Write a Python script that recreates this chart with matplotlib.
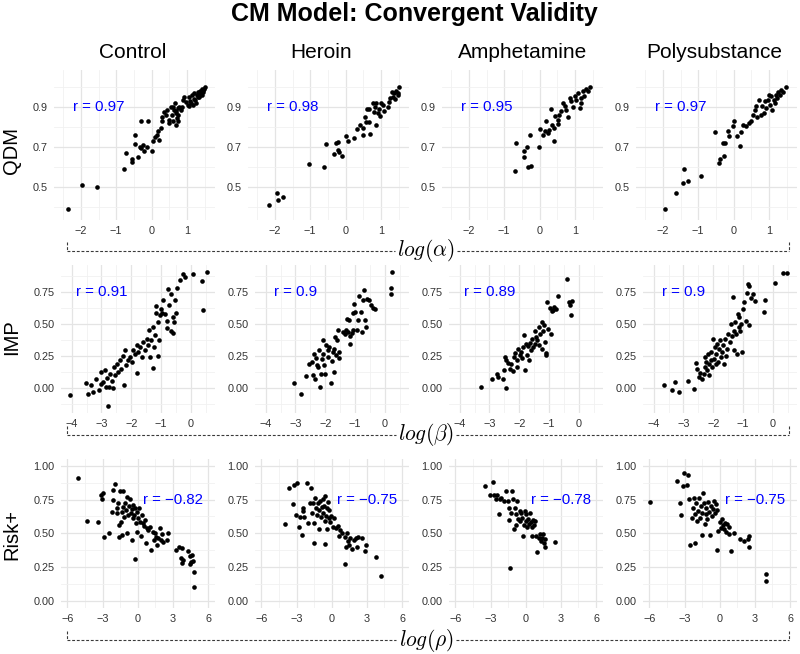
import matplotlib
matplotlib.use('Agg')
import matplotlib.pyplot as plt

plt.rcParams['font.family'] = ['Liberation Sans', 'DejaVu Sans']
plt.rcParams['mathtext.fontset'] = 'cm'
plt.rcParams['axes.unicode_minus'] = True

# ---------------- data ----------------
groups = ['Control', 'Heroin', 'Amphetamine', 'Polysubstance']
measures = ['QDM', 'IMP', 'Risk+']
param_labels = [r'$log(\alpha)$', r'$log(\beta)$', r'$log(\rho)$']
r_values = [[0.97, 0.98, 0.95, 0.97],
            [0.91, 0.9, 0.89, 0.9],
            [-0.82, -0.75, -0.78, -0.75]]

# Row 1: QDM vs log(alpha)
qdm_control_x = [-2.36, -1.97, -1.55, -0.79, -0.73, -0.56, -0.54, -0.48, -0.48, -0.38, -0.30, -0.29, -0.25, -0.21,
                 -0.09, 0.01, 0.05, 0.10, 0.17, 0.20, 0.26, 0.29, 0.36, 0.41, 0.45, 0.48, 0.50, 0.55, 0.58, 0.61,
                 0.64, 0.67, 0.69, 0.74, 0.76, 0.83, 0.88, 0.97, 1.02, 1.07, 1.11, 1.14, 1.16, 1.21, 1.24, 1.28,
                 1.30, 1.35, 1.37, 1.40, 1.42, 1.46, 1.51, 1.44, 1.25, 1.05, 0.92, 0.71, 0.62, 0.70, 0.78, 0.85,
                 1.10, 1.20, 1.32, 1.38, 1.45, 1.48, -0.33, -0.12, 0.14, 0.30, 0.68, 0.76]
qdm_control_y = [0.39, 0.51, 0.50, 0.59, 0.67, 0.64, 0.627, 0.76, 0.715, 0.653, 0.83, 0.695, 0.71, 0.68,
                 0.83, 0.683, 0.73, 0.75, 0.78, 0.737, 0.795, 0.85, 0.878, 0.86, 0.887, 0.837, 0.82, 0.903, 0.86, 0.83,
                 0.887, 0.92, 0.87, 0.895, 0.86, 0.887, 0.937, 0.928, 0.912, 0.953, 0.92, 0.962, 0.912, 0.97, 0.937, 0.962,
                 0.978, 0.953, 0.983, 0.97, 0.99, 0.978, 1.0, 0.962, 0.92, 0.907, 0.95, 0.845, 0.90, 0.88, 0.90, 0.90,
                 0.93, 0.94, 0.95, 0.96, 0.985, 0.99, 0.70, 0.70, 0.76, 0.83, 0.81, 0.83]

qdm_heroin_x = [-2.17, -1.95, -1.91, -1.77, -1.03, -0.60, -0.55, -0.33, -0.27, -0.21, -0.21, -0.18, -0.09, 0.0,
                0.06, 0.24, 0.33, 0.40, 0.48, 0.50, 0.54, 0.59, 0.62, 0.66, 0.68, 0.66, 0.80, 0.84, 0.85, 0.87,
                0.92, 0.94, 0.96, 0.99, 1.06, 1.10, 1.20, 1.24, 1.27, 1.31, 1.34, 1.38, 1.41, 1.43, 1.48, 1.52,
                1.48, 0.78]
qdm_heroin_y = [0.41, 0.47, 0.437, 0.453, 0.618, 0.603, 0.715, 0.667, 0.72, 0.728, 0.687, 0.678, 0.658, 0.757,
                0.733, 0.745, 0.792, 0.812, 0.762, 0.798, 0.853, 0.828, 0.89, 0.828, 0.767, 0.89, 0.878, 0.903, 0.812, 0.92,
                0.87, 0.89, 0.857, 0.92, 0.912, 0.883, 0.903, 0.928, 0.945, 0.978, 0.953, 0.97, 0.94, 0.983, 0.973, 1.0,
                0.962, 0.92]

qdm_amph_x = [-0.69, -0.66, -0.45, -0.45, -0.35, -0.33, -0.24, -0.26, -0.02, 0.0, 0.09, 0.14, 0.19, 0.24, 0.28,
              0.33, 0.36, 0.42, 0.45, 0.52, 0.55, 0.61, 0.66, 0.73, 0.80, 0.85, 0.90, 0.94, 0.99, 1.04, 1.08, 1.13,
              1.18, 1.23, 1.27, 1.32, 1.37, 1.43, 1.18, 0.75, 0.42, 0.52]
qdm_amph_y = [0.582, 0.721, 0.654, 0.683, 0.704, 0.604, 0.607, 0.763, 0.70, 0.79, 0.763, 0.78, 0.83, 0.77, 0.785,
              0.892, 0.813, 0.734, 0.858, 0.818, 0.863, 0.88, 0.922, 0.908, 0.852, 0.947, 0.93, 0.902, 0.958, 0.938, 0.972, 0.897,
              0.947, 0.98, 0.955, 0.992, 0.98, 1.0, 0.922, 0.888, 0.796, 0.838]

qdm_poly_x = [-1.93, -1.63, -1.43, -1.39, -1.30, -0.93, -0.52, -0.41, -0.39, -0.27, -0.31, -0.24, -0.17, -0.12,
              -0.03, 0.0, 0.11, 0.18, 0.21, 0.26, 0.35, 0.43, 0.50, 0.54, 0.62, 0.66, 0.73, 0.78, 0.81, 0.85, 0.88,
              0.92, 0.97, 1.02, 1.07, 1.10, 1.13, 1.19, 1.23, 1.26, 1.30, 1.35, 1.40, 1.48, 1.16, 1.0, 0.64]
qdm_poly_y = [0.39, 0.474, 0.524, 0.59, 0.533, 0.559, 0.775, 0.62, 0.64, 0.657, 0.72, 0.724, 0.78, 0.758,
              0.805, 0.83, 0.758, 0.707, 0.775, 0.813, 0.808, 0.82, 0.83, 0.863, 0.888, 0.852, 0.938, 0.863, 0.908, 0.872, 0.93,
              0.897, 0.938, 0.913, 0.955, 0.888, 0.938, 0.963, 0.947, 0.975, 0.963, 0.989, 0.975, 1.0, 0.922, 0.963, 0.905]

# Row 2: IMP vs log(beta)
imp_control_x = [-4.07, -3.53, -3.45, -3.36, -3.30, -3.17, -3.09, -3.02, -3.0, -2.94, -2.89, -2.85, -2.81, -2.78,
                 -2.74, -2.72, -2.66, -2.61, -2.58, -2.55, -2.49, -2.44, -2.38, -2.33, -2.27, -2.24, -2.21, -2.16,
                 -2.10, -2.04, -1.99, -1.93, -1.88, -1.82, -1.80, -1.76, -1.71, -1.65, -1.60, -1.54, -1.48, -1.43,
                 -1.39, -1.37, -1.35, -1.28, -1.26, -1.24, -1.20, -1.17, -1.17, -1.11, -1.09, -1.06, -1.03, -1.0,
                 -0.96, -0.92, -0.87, -0.81, -0.78, -0.75, -0.72, -0.67, -0.66, -0.61, -0.58, -0.55, -0.53, -0.49,
                 -0.47, -0.36, -0.27, -0.19, 0.09, 0.37, 0.43, 0.54]
imp_control_y = [-0.055, 0.039, -0.052, 0.018, -0.034, 0.07, -0.016, 0.026, 0.123, 0.044, 0.141, 0.010, 0.078, -0.146,
                 0.010, 0.11, 0.057, 0.0, 0.162, 0.097, 0.188, 0.123, 0.214, 0.149, 0.245, 0.018, 0.292, 0.175,
                 0.214, 0.240, 0.201, 0.298, 0.266, 0.332, 0.115, 0.279, 0.318, 0.240, 0.358, 0.292, 0.384, 0.332,
                 0.449, 0.240, 0.371, 0.475, 0.157, 0.318, 0.41, 0.637, 0.585, 0.245, 0.514, 0.371, 0.567, 0.619,
                 0.585, 0.684, 0.580, 0.47, 0.52, 0.775, 0.645, 0.736, 0.441, 0.428, 0.554, 0.514, 0.689, 0.585,
                 0.783, 0.846, 0.888, 0.867, 0.888, 0.836, 0.611, 0.906]

imp_heroin_x = [-3.05, -2.80, -2.64, -2.55, -2.46, -2.41, -2.38, -2.34, -2.30, -2.26, -2.23, -2.21, -2.18, -2.15,
                -2.11, -2.09, -2.06, -2.03, -2.0, -1.98, -1.92, -1.89, -1.86, -1.80, -1.77, -1.75, -1.71, -1.69,
                -1.66, -1.63, -1.61, -1.57, -1.54, -1.52, -1.40, -1.34, -1.29, -1.26, -1.23, -1.20, -1.17, -1.15,
                -1.11, -1.08, -1.06, -1.02, -1.0, -0.94, -0.89, -0.85, -0.80, -0.77, -0.74, -0.71, -0.66, -0.62,
                -0.60, -0.54, -0.46, -0.39, -0.31, 0.24, 0.21, 0.21]
imp_heroin_y = [0.039, -0.047, 0.091, 0.183, 0.201, 0.097, 0.266, 0.070, 0.232, 0.175, 0.162, 0.292, 0.010, 0.104,
                0.227, 0.371, 0.266, 0.175, 0.104, 0.332, 0.292, 0.240, 0.318, 0.037, 0.209, 0.279, 0.305, 0.123,
                0.397, 0.253, 0.376, 0.449, 0.235, 0.279, 0.436, 0.423, 0.449, 0.540, 0.436, 0.527, 0.402, 0.339,
                0.431, 0.585, 0.449, 0.658, 0.593, 0.454, 0.527, 0.715, 0.593, 0.436, 0.684, 0.762, 0.527, 0.475,
                0.697, 0.689, 0.645, 0.627, 0.619, 0.906, 0.783, 0.736]

imp_amph_x = [-3.30, -2.93, -2.75, -2.70, -2.55, -2.52, -2.49, -2.46, -2.44, -2.38, -2.32, -2.26, -2.21, -2.17,
              -2.13, -2.09, -2.06, -2.03, -1.98, -1.94, -1.92, -1.86, -1.83, -1.80, -1.77, -1.75, -1.69, -1.66,
              -1.63, -1.60, -1.57, -1.52, -1.48, -1.46, -1.44, -1.40, -1.34, -1.32, -1.29, -1.25, -1.23, -1.21,
              -1.17, -1.14, -1.11, -1.09, -1.06, -1.02, -0.98, -0.94, -0.91, -0.86, -0.83, -0.77, -0.68, -0.39,
              -0.31, -0.28, -0.25, -0.22]
imp_amph_y = [0.008, 0.065, 0.106, 0.085, 0.065, 0.137, 0.240, -0.005, 0.214, 0.194, 0.150, 0.189, 0.132, 0.240,
              0.271, 0.163, 0.214, 0.305, 0.253, 0.279, 0.235, 0.318, 0.416, 0.137, 0.344, 0.253, 0.323, 0.220,
              0.349, 0.292, 0.382, 0.318, 0.344, 0.447, 0.400, 0.370, 0.473, 0.331, 0.421, 0.512, 0.305, 0.447,
              0.494, 0.357, 0.271, 0.253, 0.667, 0.460, 0.623, 0.421, 0.602, 0.607, 0.628, 0.615, 0.718, 0.848,
              0.674, 0.649, 0.571, 0.680]

imp_poly_x = [-3.67, -3.38, -3.29, -3.15, -2.86, -2.63, -2.58, -2.55, -2.49, -2.43, -2.38, -2.32, -2.29, -2.26,
              -2.24, -2.21, -2.17, -2.15, -2.13, -2.09, -2.06, -2.03, -2.01, -1.98, -1.94, -1.92, -1.90, -1.86,
              -1.83, -1.81, -1.78, -1.75, -1.71, -1.67, -1.63, -1.60, -1.58, -1.52, -1.49, -1.44, -1.41, -1.37,
              -1.35, -1.31, -1.29, -1.26, -1.23, -1.21, -1.18, -1.14, -1.12, -1.10, -1.06, -1.03, -1.01, -0.95,
              -0.91, -0.87, -0.83, -0.80, -0.78, -0.72, -0.66, -0.61, -0.30, -0.26, 0.08, 0.34, 0.48]
imp_poly_y = [0.021, -0.018, 0.047, -0.031, 0.054, -0.013, 0.194, 0.150, 0.085, 0.116, 0.072, 0.111, 0.163, 0.240,
              0.202, 0.142, 0.266, 0.183, 0.098, 0.214, 0.279, 0.163, 0.382, 0.227, 0.318, 0.183, 0.266, 0.344,
              0.202, 0.305, 0.370, 0.240, 0.279, 0.331, 0.183, 0.382, 0.246, 0.305, 0.421, 0.357, 0.499, 0.408,
              0.711, 0.447, 0.297, 0.512, 0.421, 0.261, 0.576, 0.478, 0.550, 0.447, 0.499, 0.279, 0.615, 0.667,
              0.525, 0.744, 0.814, 0.494, 0.796, 0.700, 0.736, 0.680, 0.589, 0.685, 0.822, 0.899, 0.899]

# Row 3: Risk+ vs log(rho)
risk_control_x = [-5.07, -4.30, -3.36, -3.13, -3.08, -3.0, -2.88, -2.45, -2.22, -2.08, -2.08, -1.94, -1.79, -1.74,
                  -1.65, -1.57, -1.57, -1.51, -1.45, -1.37, -1.37, -1.28, -1.23, -1.17, -1.08, -1.0, -0.94, -0.88,
                  -0.80, -0.71, -0.66, -0.60, -0.51, -0.51, -0.43, -0.37, -0.31, -0.23, -0.23, -0.14, -0.09, -0.03,
                  0.06, 0.14, 0.20, 0.26, 0.34, 0.43, 0.54, 0.63, 0.71, 0.77, 0.91, 1.05, 1.17, 1.28, 1.40, 1.48,
                  1.57, 1.68, 1.77, 1.91, 1.97, 2.05, 2.19, 2.54, 2.48, 3.28, 3.56, 3.68, 3.76, 3.79, 3.90, 4.33,
                  4.47, 4.53, 4.62, 4.70, 4.42, 4.81, 4.81]
risk_control_y = [0.906, 0.594, 0.584, 0.783, 0.751, 0.80, 0.475, 0.505, 0.660, 0.746, 0.820, 0.862, 0.685, 0.648,
                  0.724, 0.562, 0.470, 0.815, 0.586, 0.488, 0.660, 0.815, 0.697, 0.623, 0.724, 0.672, 0.771, 0.500,
                  0.635, 0.702, 0.751, 0.653, 0.451, 0.677, 0.611, 0.709, 0.635, 0.308, 0.685, 0.579, 0.660, 0.512,
                  0.611, 0.685, 0.586, 0.480, 0.635, 0.574, 0.554, 0.599, 0.431, 0.537, 0.525, 0.549, 0.377, 0.512,
                  0.451, 0.505, 0.470, 0.414, 0.463, 0.537, 0.451, 0.495, 0.438, 0.500, 0.451, 0.377, 0.397, 0.315,
                  0.394, 0.278, 0.303, 0.372, 0.333, 0.291, 0.340, 0.298, 0.273, 0.217, 0.106]

risk_heroin_x = [-4.0, -3.63, -3.34, -3.20, -3.06, -2.97, -2.77, -2.71, -2.54, -2.49, -2.43, -2.34, -2.11, -2.0,
                 -1.83, -1.77, -1.69, -1.57, -1.49, -1.49, -1.40, -1.34, -1.29, -1.20, -1.11, -1.06, -1.0, -0.91,
                 -0.86, -0.77, -0.71, -0.63, -0.60, -0.54, -0.54, -0.49, -0.43, -0.37, -0.34, -0.26, -0.20, -0.11,
                 -0.06, 0.09, 0.23, 0.37, 0.51, 0.66, 0.74, 0.89, 1.09, 1.09, 1.23, 1.31, 1.37, 1.46, 1.57, 1.74,
                 1.86, 2.03, 2.14, 2.23, 2.60, 2.80, 2.94, 3.74, 4.23]
risk_heroin_y = [0.569, 0.833, 0.714, 0.857, 0.635, 0.869, 0.544, 0.623, 0.488, 0.685, 0.665, 0.623, 0.869, 0.579,
                 0.727, 0.833, 0.653, 0.727, 0.431, 0.579, 0.759, 0.685, 0.635, 0.724, 0.672, 0.532, 0.737, 0.623,
                 0.697, 0.751, 0.648, 0.702, 0.594, 0.776, 0.419, 0.628, 0.685, 0.530, 0.734, 0.611, 0.672, 0.586,
                 0.628, 0.544, 0.611, 0.537, 0.554, 0.480, 0.525, 0.500, 0.470, 0.271, 0.401, 0.500, 0.446, 0.414,
                 0.463, 0.382, 0.451, 0.463, 0.397, 0.475, 0.463, 0.372, 0.414, 0.323, 0.185]

risk_amph_x = [-3.49, -3.01, -2.78, -2.70, -2.44, -2.50, -2.27, -2.22, -2.07, -1.88, -1.65, -1.51, -1.42, -1.42,
               -1.31, -1.22, -1.14, -1.08, -1.02, -0.94, -0.85, -0.80, -0.74, -0.65, -0.51, -0.45, -0.37, -0.28,
               -0.23, -0.17, -0.09, 0.0, 0.06, 0.14, 0.20, 0.28, 0.40, 0.48, 0.57, 0.63, 0.71, 0.57, 0.77, 0.91,
               0.99, 1.14, 1.25, 1.34, 1.42, 1.48, 1.53, 1.62, 1.68, 2.53]
risk_amph_y = [0.848, 0.787, 0.878, 0.787, 0.787, 0.751, 0.641, 0.756, 0.763, 0.738, 0.812, 0.738, 0.690, 0.599,
               0.242, 0.653, 0.812, 0.756, 0.531, 0.690, 0.560, 0.641, 0.738, 0.604, 0.665, 0.592, 0.648, 0.616,
               0.482, 0.560, 0.665, 0.592, 0.641, 0.550, 0.609, 0.567, 0.653, 0.584, 0.550, 0.599, 0.560, 0.482,
               0.594, 0.477, 0.364, 0.469, 0.494, 0.445, 0.469, 0.494, 0.428, 0.457, 0.396, 0.433]

risk_poly_x = [-5.95, -3.65, -3.42, -3.28, -3.13, -3.07, -2.79, -2.70, -2.59, -2.50, -2.41, -2.30, -2.21, -2.13,
               -2.13, -2.01, -1.93, -1.84, -1.78, -1.72, -1.64, -1.55, -1.49, -1.44, -1.35, -1.26, -1.21, -1.15,
               -1.06, -0.98, -0.92, -0.86, -0.78, -0.69, -0.57, -0.49, -0.40, -0.34, -0.26, -0.20, -0.11, 0.0,
               0.09, 0.17, 0.29, 0.37, 0.46, 0.52, 0.60, 0.75, 0.80, 0.95, 1.24, 1.72, 2.10, 2.39, 2.47, 2.47,
               3.91, 3.91]
risk_poly_y = [0.733, 0.885, 0.726, 0.633, 0.848, 0.946, 0.856, 0.934, 0.756, 0.413, 0.616, 0.690, 0.763, 0.428,
               0.641, 0.726, 0.592, 0.665, 0.763, 0.616, 0.702, 0.487, 0.653, 0.800, 0.726, 0.567, 0.641, 0.690,
               0.604, 0.731, 0.658, 0.487, 0.702, 0.628, 0.677, 0.738, 0.653, 0.714, 0.379, 0.672, 0.518, 0.584,
               0.543, 0.604, 0.560, 0.535, 0.579, 0.511, 0.567, 0.550, 0.494, 0.372, 0.506, 0.462, 0.445, 0.462,
               0.396, 0.482, 0.200, 0.144]

panel_data = [
    [(qdm_control_x, qdm_control_y), (qdm_heroin_x, qdm_heroin_y), (qdm_amph_x, qdm_amph_y), (qdm_poly_x, qdm_poly_y)],
    [(imp_control_x, imp_control_y), (imp_heroin_x, imp_heroin_y), (imp_amph_x, imp_amph_y), (imp_poly_x, imp_poly_y)],
    [(risk_control_x, risk_control_y), (risk_heroin_x, risk_heroin_y), (risk_amph_x, risk_amph_y), (risk_poly_x, risk_poly_y)],
]

x_major = [[-2, -1, 0, 1], [-4, -3, -2, -1, 0], [-6, -3, 0, 3, 6]]
x_minor = [[-2.5, -1.5, -0.5, 0.5, 1.5], [-3.5, -2.5, -1.5, -0.5, 0.5], [-4.5, -1.5, 1.5, 4.5]]
y_major = [[0.5, 0.7, 0.9], [0.0, 0.25, 0.5, 0.75], [0.0, 0.25, 0.5, 0.75, 1.0]]
y_minor = [[0.4, 0.6, 0.8, 1.0], [-0.125, 0.125, 0.375, 0.625, 0.875], [0.125, 0.375, 0.625, 0.875]]
y_fmt = ['{:.1f}', '{:.2f}', '{:.2f}']

# ---------------- layout (pixels) ----------------
W, H = 800, 654
fig = plt.figure(figsize=(W / 100, H / 100), dpi=100)
fig.patch.set_facecolor('white')

xlims = [(-2.76, 1.78), (-4.36, 0.80), (-6.55, 6.55)]
ylims = [(0.3365, 1.0865), (-0.197, 0.96), (-0.052, 1.05)]
rights = [214.5, 408.5, 602.5, 796.5]
widths = [160.5, 153.5, 153.5]
row_tb = [(70, 220), (265, 413), (459, 608)]
r_pos = [(-1.5, 0.9), (-3.0, 0.75), (3.0, 0.75)]


def px_axes(l, t, r, b):
    return fig.add_axes([l / W, 1 - b / H, (r - l) / W, (b - t) / H])


def fmt_r(v):
    s = f"r = {v:g}"
    return s.replace('-', '\u2212')


for i in range(3):
    t, b = row_tb[i]
    for j in range(4):
        r = rights[j]
        ax = px_axes(r - widths[i], t, r, b)
        ax.set_facecolor('white')
        for s in ax.spines.values():
            s.set_visible(False)
        ax.set_xlim(*xlims[i])
        ax.set_ylim(*ylims[i])
        ax.set_xticks(x_major[i])
        ax.set_xticks(x_minor[i], minor=True)
        ax.set_yticks(y_major[i])
        ax.set_yticks(y_minor[i], minor=True)
        ax.set_yticklabels([y_fmt[i].format(v) for v in y_major[i]])
        ax.grid(True, which='major', color='#E4E4E4', linewidth=0.9, zorder=0)
        ax.grid(True, which='minor', color='#F1F1F1', linewidth=0.6, zorder=0)
        ax.set_axisbelow(True)
        ax.tick_params(which='both', length=0, labelsize=7.8, labelcolor='#333333', pad=4.5)
        xs, ys = panel_data[i][j]
        ax.scatter(xs, ys, s=11, color='black', linewidths=0, zorder=3)
        ax.text(r_pos[i][0], r_pos[i][1], fmt_r(r_values[i][j]), color='#0000FF',
                fontsize=10.8, ha='center', va='center', zorder=4)

# overlay for titles and brackets (pixel coordinates)
ov = fig.add_axes([0, 0, 1, 1], zorder=10)
ov.set_xlim(0, W)
ov.set_ylim(H, 0)
ov.axis('off')
ov.patch.set_alpha(0)

ov.text(414.7, 13.5, 'CM Model: Convergent Validity', fontsize=18, fontweight='bold',
        ha='center', va='center', color='black')

title_x = [132.3, 321.3, 522.8, 714.7]
for j, g in enumerate(groups):
    ov.text(title_x[j], 53, g, fontsize=15, ha='center', va='center', color='black')

row_label_y = [150, 337, 534]
for i, m in enumerate(measures):
    ov.text(12, row_label_y[i], m, fontsize=14.5, rotation=90, ha='center', va='center', color='black')

bracket_y = [250.7, 435, 640]
bx0, bx1 = 66.7, 789.3
lab_cx = 426
lab_half = [31, 30, 30]
dash_kw = dict(color='#3A3A3A', linewidth=0.8, linestyle=(0, (2.6, 1.6)))
for i in range(3):
    y = bracket_y[i]
    ov.plot([bx0, bx0], [y - 9, y], **dash_kw)
    ov.plot([bx1, bx1], [y - 9, y], **dash_kw)
    ov.plot([bx0, lab_cx - lab_half[i]], [y, y], **dash_kw)
    ov.plot([lab_cx + lab_half[i], bx1], [y, y], **dash_kw)
    ov.text(lab_cx, y, param_labels[i], fontsize=15.5, ha='center', va='center', color='black')

fig.savefig('out.png', dpi=100, facecolor='white')
